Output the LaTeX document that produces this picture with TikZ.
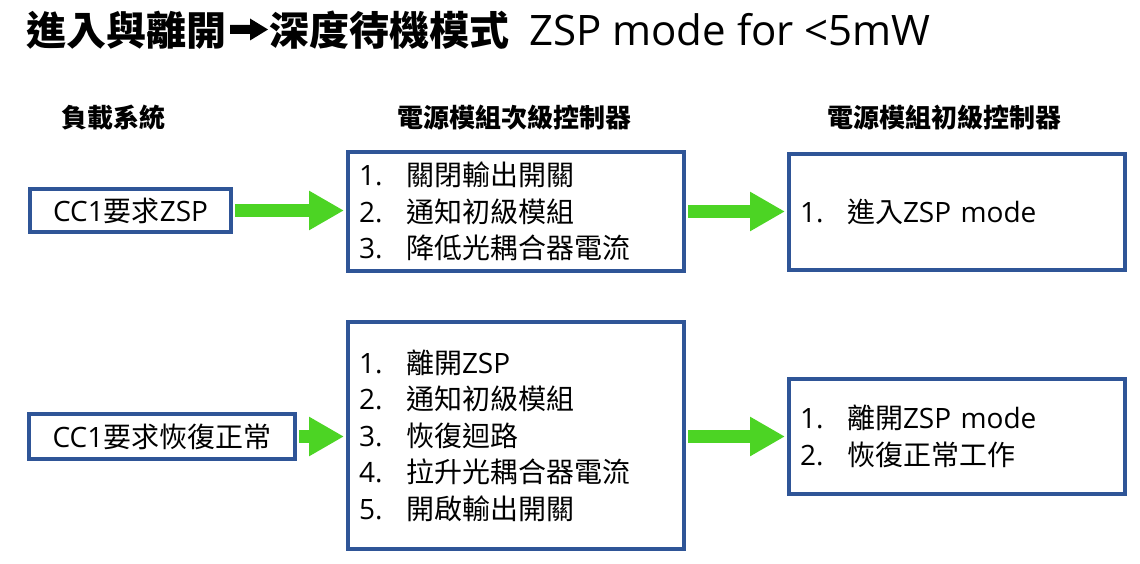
\documentclass[tikz,border=0pt]{standalone}
\usepackage{fontspec}
\setmainfont{Noto Sans CJK TC}
\newfontfamily\latf{Open Sans}
\newcommand{\latx}[1]{{\latf #1}}
\usetikzlibrary{arrows.meta}
\definecolor{boxblue}{HTML}{2F5597}
\definecolor{argreen}{HTML}{4CD424}
\newcommand{\itm}[1]{\makebox[47pt][l]{\latx{#1}}}
\tikzset{
  box/.style={draw=boxblue, line width=4pt, fill=white, inner xsep=11pt, inner ysep=0pt,
    font=\fontsize{28}{36.5}\selectfont},
  listbox/.style={box, align=left, text width=314pt, minimum width=336pt},
  srcbox/.style={box, align=center},
  head/.style={font=\fontsize{26}{30}\selectfont\bfseries},
  ttl/.style={anchor=base west, inner sep=0pt, font=\fontsize{40}{44}\selectfont\bfseries},
  garrow/.style={draw=argreen, line width=13pt, -{Triangle[length=35pt,width=37pt]},
    shorten <=2pt, shorten >=2pt}
}
\begin{document}
\begin{tikzpicture}[x=1pt,y=-1pt]
\useasboundingbox (0,0) rectangle (1140,564);
\fill[white] (0,0) rectangle (1140,564);
\node[ttl] (t1) at (26,46) {進入與離開};
\node[ttl] (t2) at (269,46) {深度待機模式};
\node[ttl, font=\fontsize{42}{46}\latf] (t3) at (529,46) {ZSP mode for {<}5mW};
\fill[black] (230,25) -- (250,25) -- (250,18.5) -- (268,29.5) -- (250,40.5) -- (250,34) -- (230,34) -- cycle;

\node[head] (h1) at (113.5,118) {負載系統};
\node[head] (h2) at (514,118) {電源模組次級控制器};
\node[head] (h3) at (944,118) {電源模組初級控制器};

\node[srcbox, minimum width=201pt, minimum height=43pt] (b1) at (130.5,210.5) {\latx{CC1}要求\latx{ZSP}};
\node[listbox, minimum height=119pt] (b2) at (516,211.5)
  {\itm{1.}關閉輸出開關\\ \itm{2.}通知初級模組\\ \itm{3.}降低光耦合器電流};
\node[listbox, minimum height=116pt] (b3) at (957,212)
  {\itm{1.}進入\latx{ZSP mode}};

\node[srcbox, minimum width=266pt, minimum height=45pt] (b4) at (162,436.5) {\latx{CC1}要求恢復正常};
\node[listbox, minimum height=227pt] (b5) at (516,435.5)
  {\itm{1.}離開\latx{ZSP}\\ \itm{2.}通知初級模組\\ \itm{3.}恢復迴路\\ \itm{4.}拉升光耦合器電流\\ \itm{5.}開啟輸出開關};
\node[listbox, minimum height=115pt] (b6) at (957,436.5)
  {\itm{1.}離開\latx{ZSP mode}\\ \itm{2.}恢復正常工作};

\draw[garrow] (b1.east) -- (b2.west |- b1.east);
\draw[garrow] (b2.east) -- (b3.west |- b2.east);
\draw[garrow] (b4.east) -- (b5.west |- b4.east);
\draw[garrow] (b5.east |- b6.west) -- (b6.west);
\end{tikzpicture}
\end{document}
